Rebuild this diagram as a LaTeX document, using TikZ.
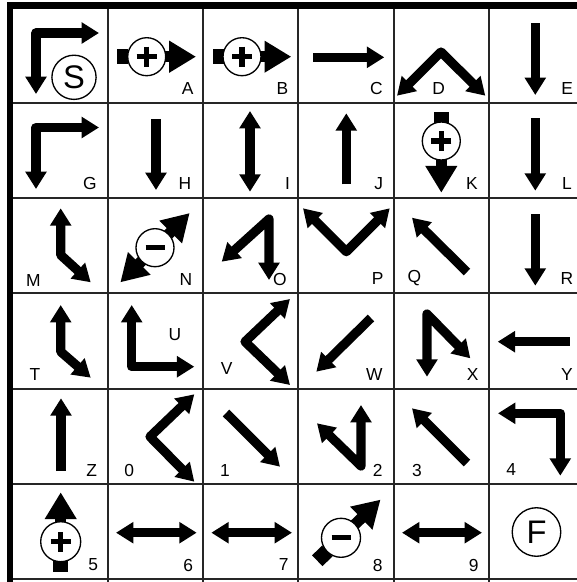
\documentclass[tikz,border=0pt]{standalone}
\usepackage{fontspec}
\setmainfont{Liberation Sans}
\usetikzlibrary{arrows.meta}

\begin{document}
\begin{tikzpicture}[
  x=0.021cm, y=-0.021cm,
  >={Triangle[length=10.4pt, width=12.2pt]},
  grid/.style={line width=1.1pt, black!85},
  frame/.style={line width=3.8pt},
  arr/.style={line width=5.5pt, line join=round},
  bat/.style={line width=6.6pt, -{Triangle[length=16pt, width=18pt]}},
  rim/.style={line width=0.8pt, fill=white},
  sign/.style={line width=3pt},
  lbl/.style={font=\fontsize{10.4}{12}\selectfont, inner sep=0pt},
  big/.style={circle, draw, line width=0.8pt, inner sep=0pt,
              font=\fontsize{19.5}{22}\selectfont},
]
  \useasboundingbox (0,0) rectangle (577,582);

  %% ── Grid ────────────────────────────────────────────────────────────────
  \draw[grid] (107.8,7.5) -- (107.8,582);
  \draw[grid] (203.1,7.5) -- (203.1,582);
  \draw[grid] (298.4,7.5) -- (298.4,582);
  \draw[grid] (393.7,7.5) -- (393.7,582);
  \draw[grid] (489.0,7.5) -- (489.0,582);
  \draw[grid] (12.5,102.8) -- (577,102.8);
  \draw[grid] (12.5,198.1) -- (577,198.1);
  \draw[grid] (12.5,293.4) -- (577,293.4);
  \draw[grid] (12.5,388.7) -- (577,388.7);
  \draw[grid] (12.5,484.0) -- (577,484.0);
  \draw[grid] (12.5,579.3) -- (577,579.3);
  \draw[frame] (9.8,582) -- (9.8,5.5) -- (577,5.5);

  %% ── Row 1 ───────────────────────────────────────────────────────────────
  \draw[arr, <->] (36,94) |- (99,33);
  \node[big, minimum size=26.4pt] (start) at (74,77.3) {S};

  \begin{scope}[shift={(146.7,56.7)}]
    \fill (-29.5,-7.5) rectangle (-18.5,7.5);
    \draw[bat] (18,0) -- (49.3,0);
    \draw[rim] (0,0) circle (19);
    \draw[sign] (-10,0) -- (10,0) (0,-10) -- (0,10);
  \end{scope}
  \begin{scope}[shift={(242,56.7)}]
    \fill (-29.5,-7.5) rectangle (-18.5,7.5);
    \draw[bat] (18,0) -- (49.3,0);
    \draw[rim] (0,0) circle (19);
    \draw[sign] (-10,0) -- (10,0) (0,-10) -- (0,10);
  \end{scope}

  \draw[arr, ->]  (313,57.3) -- (384.3,57.3);
  \draw[arr, <->] (397,95.7) -- (441,52) -- (485.3,95.7);
  \draw[arr, ->]  (535.3,23.3) -- (535.3,95);

  \node[lbl] (lA) at (187.7,88.6) {A};
  \node[lbl] (lB) at (282.5,88.6) {B};
  \node[lbl] (lC) at (376.3,88.6) {C};
  \node[lbl] (lD) at (438.7,88.6) {D};
  \node[lbl] (lE) at (567.3,88.6) {E};

  %% ── Row 2 ───────────────────────────────────────────────────────────────
  \draw[arr, <->] (36,189) |- (99,127.5);
  \draw[arr, ->]  (156,119.3) -- (156,190);
  \draw[arr, <->] (250,111) -- (250,191.7);
  \draw[arr, ->]  (346.3,184.3) -- (346.3,113.3);

  \begin{scope}[shift={(441.3,141)}, rotate=-90]
    \fill (-29.5,-7.5) rectangle (-18.5,7.5);
    \draw[bat] (18,0) -- (51.7,0);
    \draw[rim] (0,0) circle (19);
    \draw[sign] (-10,0) -- (10,0) (0,-10) -- (0,10);
  \end{scope}

  \draw[arr, ->]  (535.3,118.3) -- (535.3,190.7);

  \node[lbl] (lG) at (90,183.3)    {G};
  \node[lbl] (lH) at (185,183.3)   {H};
  \node[lbl] (lI) at (287.5,183.3) {I};
  \node[lbl] (lJ) at (378.7,183.3) {J};
  \node[lbl] (lK) at (472,183.3)   {K};
  \node[lbl] (lL) at (567,183.3)   {L};

  %% ── Row 3 ───────────────────────────────────────────────────────────────
  \draw[arr, <->] (60.7,208.3) -- (60.7,255) -- (90.7,282.3);

  \begin{scope}[shift={(155,247.7)}, rotate=45]
    \draw[bat] (18,0) -- (49,0);
    \draw[bat] (-18,0) -- (-49,0);
    \draw[rim] (0,0) circle (19);
  \end{scope}
  \draw[sign] (145.5,247.7) -- (164.5,247.7);

  \draw[arr, <->] (221.7,261.7) -- (269,219) -- (269,280);
  \draw[arr, <->] (303,208.3) -- (346.3,251.7) -- (389.7,208.3);
  \draw[arr, ->]  (467,272) -- (412,217.7);
  \draw[arr, ->]  (535.3,214.3) -- (535.3,285.7);

  \node[lbl] (lM) at (33.3,281)    {M};
  \node[lbl] (lN) at (186,280)     {N};
  \node[lbl] (lO) at (280,280)     {O};
  \node[lbl] (lP) at (377.8,278.3) {P};
  \node[lbl] (lQ) at (414.3,278.3) {Q};
  \node[lbl] (lR) at (567,278.3)   {R};

  %% ── Row 4 ───────────────────────────────────────────────────────────────
  \draw[arr, <->] (60.7,305) -- (60.7,351.7) -- (90.7,377.7);
  \draw[arr, <->] (131.7,305) |- (194.3,366.7);
  \draw[arr, <->] (290,299) -- (245,341.7) -- (290,385);
  \draw[arr, ->]  (371,318) -- (316.3,371.7);
  \draw[arr, <->] (427,376.7) -- (427,314) -- (470.3,358.3);
  \draw[arr, ->]  (569.7,341.7) -- (497.7,341.7);

  \node[lbl] (lT) at (35,375)      {T};
  \node[lbl] (lU) at (175,335)     {U};
  \node[lbl] (lV) at (226.7,369)   {V};
  \node[lbl] (lW) at (374.3,375)   {W};
  \node[lbl] (lX) at (472.7,375)   {X};
  \node[lbl] (lY) at (567,375)     {Y};

  %% ── Row 5 ───────────────────────────────────────────────────────────────
  \draw[arr, ->]  (61,471) -- (61,398.3);
  \draw[arr, <->] (194.3,394.3) -- (150,436.7) -- (194.3,481.7);
  \draw[arr, ->]  (226,413) -- (280,466.7);
  \draw[arr, <->] (317,423.3) -- (361,466) -- (361,405);
  \draw[arr, ->]  (467,463) -- (412,408.3);
  \draw[arr, <->] (498,413.3) -| (560.3,475.7);

  \node[lbl] (lZ)    at (91.7,471)  {Z};
  \node[lbl] (lzero) at (129.3,470) {0};
  \node[lbl] (lone)  at (225,471)   {1};
  \node[lbl] (ltwo)  at (377.7,470) {2};
  \node[lbl] (lthree) at (417,470)  {3};
  \node[lbl] (lfour) at (511.3,470) {4};

  %% ── Row 6 ───────────────────────────────────────────────────────────────
  \begin{scope}[shift={(60.7,541.7)}, rotate=90]
    \fill (-30,-7.5) rectangle (-19,7.5);
    \draw[bat] (18,0) -- (49.4,0);
    \draw[rim] (0,0) circle (20);
    \draw[sign] (-10,0) -- (10,0) (0,-10) -- (0,10);
  \end{scope}

  \draw[arr, <->] (116,532.7) -- (196.7,532.7);
  \draw[arr, <->] (211.3,532.7) -- (292,532.7);

  \begin{scope}[shift={(341,537.8)}, rotate=44]
    \fill (-33,-7.5) rectangle (-19,7.5);
    \draw[bat] (18,0) -- (55,0);
    \draw[rim] (0,0) circle (19.5);
  \end{scope}
  \draw[sign] (331.5,537.8) -- (350.5,537.8);

  \draw[arr, <->] (402,532.7) -- (482,532.7);
  \node[big, minimum size=29pt] (finish) at (536.5,532) {F};

  \node[lbl] (lfive)  at (93.3,565)  {5};
  \node[lbl] (lsix)   at (188.3,565) {6};
  \node[lbl] (lseven) at (283.6,565) {7};
  \node[lbl] (leight) at (377.7,565) {8};
  \node[lbl] (lnine)  at (473.7,565) {9};

\end{tikzpicture}
\end{document}
